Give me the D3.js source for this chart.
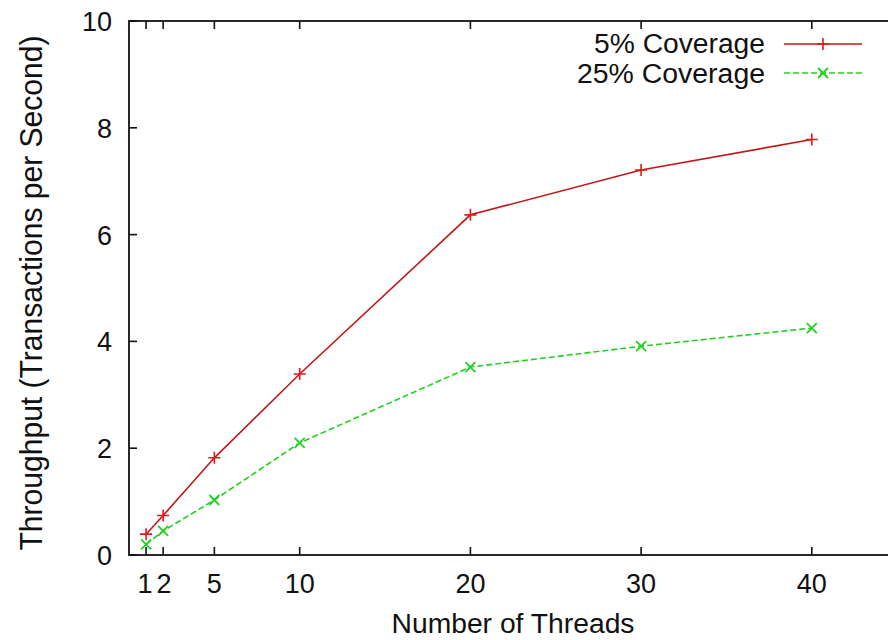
<!DOCTYPE html>
<html><head><meta charset="utf-8">
<script src="https://cdn.jsdelivr.net/npm/d3@7"></script>
<style>body{margin:0;background:#fff}svg{display:block}text{font-family:"Liberation Sans",Arial,sans-serif;fill:#111}</style>
</head><body><svg id="c" width="888" height="640"></svg>
<script>
const threads = [1, 2, 5, 10, 20, 30, 40];
const cov5 = [0.39, 0.74, 1.82, 3.39, 6.37, 7.21, 7.78];
const cov25 = [0.20, 0.45, 1.03, 2.10, 3.52, 3.91, 4.25];
const xTicks = [1, 2, 5, 10, 20, 30, 40];
const yTicks = [0, 2, 4, 6, 8, 10];
const seriesNames = ["5% Coverage", "25% Coverage"];

const svg = d3.select("#c");
const L = 129, T = 21, B = 555;
const x = d3.scaleLinear().domain([0, 45]).range([L, L + 45 * 17.07]);
const y = d3.scaleLinear().domain([0, 10]).range([B, T]);
const R = x(45);

const g = svg.append("g");
g.append("rect").attr("x", L).attr("y", T).attr("width", R - L).attr("height", B - T)
  .attr("fill", "none").attr("stroke", "#111").attr("stroke-width", 1.8);

xTicks.forEach(t => {
  g.append("line").attr("x1", x(t)).attr("x2", x(t)).attr("y1", B).attr("y2", B - 8).attr("stroke", "#111").attr("stroke-width", 1.6);
  g.append("line").attr("x1", x(t)).attr("x2", x(t)).attr("y1", T).attr("y2", T + 8).attr("stroke", "#111").attr("stroke-width", 1.6);
  g.append("text").attr("x", x(t) + (t === 1 ? -1 : t === 2 ? 1 : 0)).attr("y", B + 38).attr("text-anchor", "middle")
    .attr("font-size", 27).text(t);
});
yTicks.forEach(t => {
  g.append("line").attr("x1", L).attr("x2", L + 8).attr("y1", y(t)).attr("y2", y(t)).attr("stroke", "#111").attr("stroke-width", 1.6);
  g.append("line").attr("x1", R).attr("x2", R - 8).attr("y1", y(t)).attr("y2", y(t)).attr("stroke", "#111").attr("stroke-width", 1.6);
  g.append("text").attr("x", L - 17).attr("y", y(t) + 10).attr("text-anchor", "end")
    .attr("font-size", 27).text(t);
});

svg.append("text").attr("x", 513).attr("y", 633).attr("text-anchor", "middle").attr("font-size", 27)
  .attr("textLength", 243).attr("lengthAdjust", "spacingAndGlyphs").text("Number of Threads");
svg.append("text").attr("transform", "translate(42,293) rotate(-90)").attr("text-anchor", "middle").attr("font-size", 31)
  .attr("textLength", 515).attr("lengthAdjust", "spacingAndGlyphs").text("Throughput (Transactions per Second)");

const line = d3.line().x((d, i) => x(threads[i])).y(d => y(d));
const redLine = "#c01818", redMark = "#e01818", green = "#22d022";

svg.append("path").datum(cov5).attr("d", line).attr("fill", "none").attr("stroke", redLine).attr("stroke-width", 1.6);
svg.append("path").datum(cov25).attr("d", line).attr("fill", "none").attr("stroke", green).attr("stroke-width", 1.6).attr("stroke-dasharray", "6,3");

function plus(sel, cx, cy, col) {
  sel.append("path").attr("d", `M${cx-6},${cy}H${cx+6}M${cx},${cy-6}V${cy+6}`).attr("stroke", col).attr("stroke-width", 1.6);
}
function cross(sel, cx, cy, col) {
  sel.append("path").attr("d", `M${cx-5},${cy-5}L${cx+5},${cy+5}M${cx-5},${cy+5}L${cx+5},${cy-5}`).attr("stroke", col).attr("stroke-width", 1.8);
}
cov5.forEach((v, i) => plus(svg, x(threads[i]), y(v), redMark));
cov25.forEach((v, i) => cross(svg, x(threads[i]), y(v), green));

svg.append("text").attr("x", 765).attr("y", 53).attr("text-anchor", "end").attr("font-size", 27)
  .attr("textLength", 171).attr("lengthAdjust", "spacingAndGlyphs").text(seriesNames[0]);
svg.append("text").attr("x", 765).attr("y", 83).attr("text-anchor", "end").attr("font-size", 27)
  .attr("textLength", 188).attr("lengthAdjust", "spacingAndGlyphs").text(seriesNames[1]);
svg.append("line").attr("x1", 784).attr("x2", 862).attr("y1", 44).attr("y2", 44).attr("stroke", redLine).attr("stroke-width", 1.6);
plus(svg, 823, 44, redMark);
svg.append("line").attr("x1", 784).attr("x2", 862).attr("y1", 73).attr("y2", 73).attr("stroke", green).attr("stroke-width", 1.6).attr("stroke-dasharray", "6,3");
cross(svg, 823, 73, green);
</script></body></html>
